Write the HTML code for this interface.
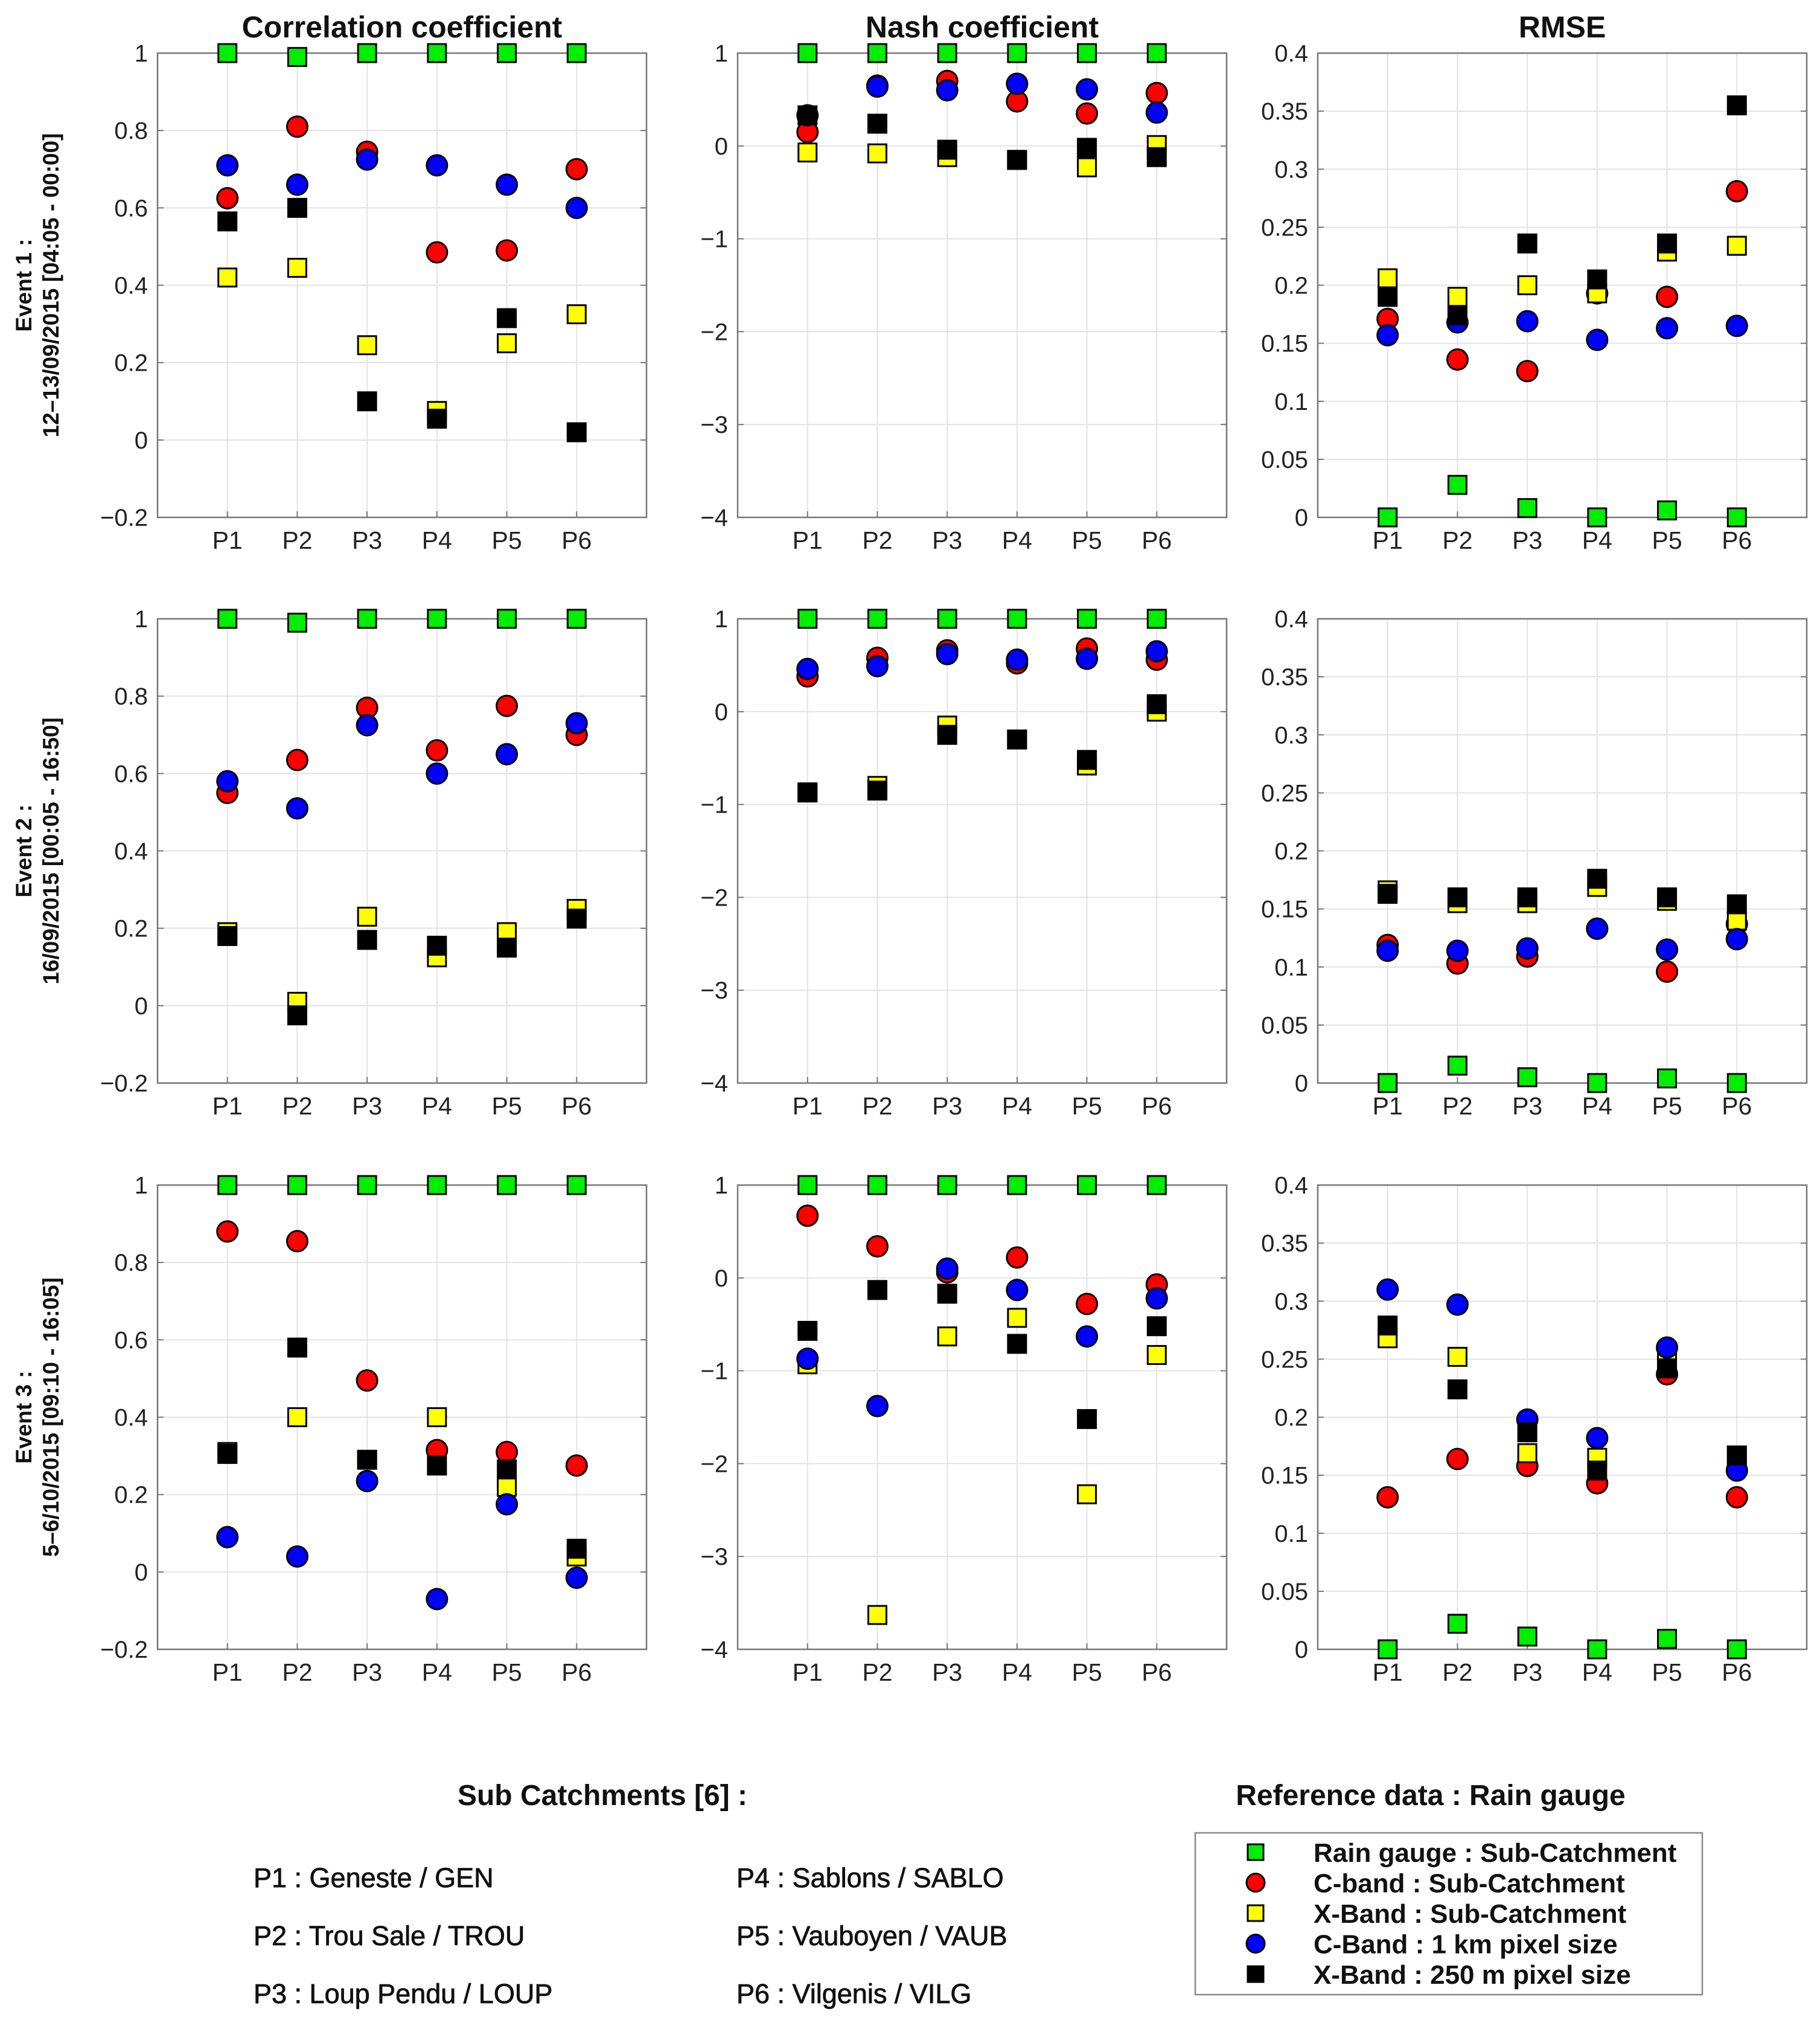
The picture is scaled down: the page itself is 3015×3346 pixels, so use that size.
<!DOCTYPE html>
<html><head><meta charset="utf-8"><style>
html,body{margin:0;padding:0;background:#fff;}
svg{display:block;font-family:"Liberation Sans",sans-serif;}
</style></head><body>
<svg id="fig" width="3015" height="3346" viewBox="0 0 3015 3346" xmlns="http://www.w3.org/2000/svg"></svg>
<script>
const categories = ["P1","P2","P3","P4","P5","P6"];
const metrics = ["Correlation coefficient","Nash coefficient","RMSE"];
const events = [["Event 1 :","12\u201313/09/2015 [04:05 - 00:00]"],["Event 2 :","16/09/2015 [00:05 - 16:50]"],["Event 3 :","5\u20136/10/2015 [09:10 - 16:05]"]];
const corrTicks = [-0.2,0,0.2,0.4,0.6,0.8,1];
const corrTickLabels = ["\u22120.2","0","0.2","0.4","0.6","0.8","1"];
const nashTicks = [-4,-3,-2,-1,0,1];
const nashTickLabels = ["\u22124","\u22123","\u22122","\u22121","0","1"];
const rmseTicks = [0,0.05,0.1,0.15,0.2,0.25,0.3,0.35,0.4];
const rmseTickLabels = ["0","0.05","0.1","0.15","0.2","0.25","0.3","0.35","0.4"];
// Event 1
const e1CorrGreen=[1,0.99,1,1,1,1], e1CorrRed=[0.625,0.81,0.745,0.485,0.49,0.7], e1CorrYellow=[0.42,0.445,0.245,0.075,0.25,0.325], e1CorrBlue=[0.71,0.66,0.725,0.71,0.66,0.6], e1CorrBlack=[0.565,0.6,0.1,0.055,0.315,0.02];
const e1NashGreen=[1,1,1,1,1,1], e1NashRed=[0.15,0.65,0.7,0.48,0.35,0.57], e1NashYellow=[-0.07,-0.08,-0.12,-0.15,-0.23,0.01], e1NashBlue=[0.33,0.64,0.6,0.67,0.61,0.36], e1NashBlack=[0.33,0.24,-0.04,-0.15,-0.02,-0.12];
const e1RmseGreen=[0,0.028,0.008,0,0.006,0], e1RmseRed=[0.171,0.136,0.126,0.193,0.19,0.281], e1RmseYellow=[0.206,0.19,0.2,0.193,0.229,0.234], e1RmseBlue=[0.157,0.168,0.169,0.153,0.163,0.165], e1RmseBlack=[0.19,0.174,0.236,0.205,0.236,0.355];
// Event 2
const e2CorrGreen=[1,0.99,1,1,1,1], e2CorrRed=[0.55,0.635,0.77,0.66,0.775,0.7], e2CorrYellow=[0.19,0.01,0.23,0.125,0.19,0.25], e2CorrBlue=[0.58,0.51,0.725,0.6,0.65,0.73], e2CorrBlack=[0.18,-0.025,0.17,0.155,0.15,0.225];
const e2NashGreen=[1,1,1,1,1,1], e2NashRed=[0.38,0.58,0.66,0.52,0.68,0.56], e2NashYellow=[-0.87,-0.8,-0.15,-0.3,-0.58,0], e2NashBlue=[0.46,0.49,0.62,0.56,0.57,0.65], e2NashBlack=[-0.87,-0.85,-0.25,-0.3,-0.52,0.08];
const e2RmseGreen=[0,0.015,0.005,0,0.004,0], e2RmseRed=[0.119,0.103,0.109,0.133,0.096,0.137], e2RmseYellow=[0.166,0.155,0.155,0.169,0.157,0.14], e2RmseBlue=[0.114,0.114,0.116,0.133,0.115,0.124], e2RmseBlack=[0.163,0.16,0.16,0.176,0.16,0.154];
// Event 3
const e3CorrGreen=[1,1,1,1,1,1], e3CorrRed=[0.88,0.855,0.495,0.315,0.31,0.275], e3CorrYellow=[0.31,0.4,0.29,0.4,0.22,0.04], e3CorrBlue=[0.09,0.04,0.235,-0.07,0.175,-0.015], e3CorrBlack=[0.305,0.58,0.29,0.275,0.265,0.06];
const e3NashGreen=[1,1,1,1,1,1], e3NashRed=[0.67,0.34,0.06,0.22,-0.28,-0.07], e3NashYellow=[-0.93,-3.63,-0.63,-0.43,-2.33,-0.83], e3NashBlue=[-0.87,-1.38,0.1,-0.13,-0.63,-0.22], e3NashBlack=[-0.57,-0.13,-0.17,-0.71,-1.52,-0.52];
const e3RmseGreen=[0,0.022,0.011,0,0.009,0], e3RmseRed=[0.131,0.164,0.158,0.143,0.237,0.131], e3RmseYellow=[0.268,0.252,0.169,0.165,0.25,0.167], e3RmseBlue=[0.31,0.297,0.198,0.182,0.26,0.154], e3RmseBlack=[0.279,0.224,0.187,0.154,0.242,0.167];

const NS="http://www.w3.org/2000/svg";
const svg=document.getElementById('fig');
function mk(tag,attrs,parent,text){const e=document.createElementNS(NS,tag);for(const k in attrs)e.setAttribute(k,attrs[k]);if(text!==undefined)e.textContent=text;(parent||svg).appendChild(e);return e;}

const colLeft=[261,1222,2183], colW=810, rowTop=[88,1025,1963], rowH=769;
const yCfg=[{min:-0.2,max:1,ticks:corrTicks,labels:corrTickLabels},{min:-4,max:1,ticks:nashTicks,labels:nashTickLabels},{min:0,max:0.4,ticks:rmseTicks,labels:rmseTickLabels}];
const seriesData=[
 [[e1CorrGreen,e1CorrRed,e1CorrYellow,e1CorrBlue,e1CorrBlack],[e1NashGreen,e1NashRed,e1NashYellow,e1NashBlue,e1NashBlack],[e1RmseGreen,e1RmseRed,e1RmseYellow,e1RmseBlue,e1RmseBlack]],
 [[e2CorrGreen,e2CorrRed,e2CorrYellow,e2CorrBlue,e2CorrBlack],[e2NashGreen,e2NashRed,e2NashYellow,e2NashBlue,e2NashBlack],[e2RmseGreen,e2RmseRed,e2RmseYellow,e2RmseBlue,e2RmseBlack]],
 [[e3CorrGreen,e3CorrRed,e3CorrYellow,e3CorrBlue,e3CorrBlack],[e3NashGreen,e3NashRed,e3NashYellow,e3NashBlue,e3NashBlack],[e3RmseGreen,e3RmseRed,e3RmseYellow,e3RmseBlue,e3RmseBlack]]];
const seriesNames=["rain-gauge","c-band-subcatchment","x-band-subcatchment","c-band-1km","x-band-250m"];
const seriesFill=["#00ee00","#ff0000","#ffff00","#0000ff","#000000"];
const seriesShape=["sq","ci","sq","ci","sq"];

function marker(g,shape,fill,cx,cy,s){
  if(shape==="sq") return mk('rect',{x:cx-s/2,y:cy-s/2,width:s,height:s,fill:fill,stroke:'#000','stroke-width':3},g);
  return mk('circle',{cx:cx,cy:cy,r:s/2,fill:fill,stroke:'#000','stroke-width':3},g);
}

for(let r=0;r<3;r++){
  for(let c=0;c<3;c++){
    const L=colLeft[c],T=rowTop[r],cfg=yCfg[c];
    const xs=v=>L+(v/7)*colW;
    const ys=v=>T+rowH-(v-cfg.min)/(cfg.max-cfg.min)*rowH;
    const g=mk('g',{},svg);
    
    
    cfg.ticks.forEach((t,i)=>{
      const y=ys(t);
      const gl=mk('line',{x1:L,x2:L+colW,y1:y,y2:y,stroke:'#e3e3e3','stroke-width':2},g);
      
      mk('line',{x1:L,x2:L+10,y1:y,y2:y,stroke:'#777','stroke-width':2},g);
      mk('line',{x1:L+colW-10,x2:L+colW,y1:y,y2:y,stroke:'#777','stroke-width':2},g);
      const tl=mk('text',{x:L-16,y:y+14,'text-anchor':'end','font-size':40,fill:'#222'},g,cfg.labels[i]);
      
    });
    categories.forEach((cat,i)=>{
      const x=xs(i+1);
      const gl=mk('line',{x1:x,x2:x,y1:T,y2:T+rowH,stroke:'#e3e3e3','stroke-width':2},g);
      
      mk('line',{x1:x,x2:x,y1:T+rowH-10,y2:T+rowH,stroke:'#777','stroke-width':2},g);
      const tl=mk('text',{x:x,y:T+rowH+52,'text-anchor':'middle','font-size':41,fill:'#222'},g,cat);
      
    });
    const box=mk('rect',{x:L,y:T,width:colW,height:rowH,fill:'none',stroke:'#777','stroke-width':2.5},g);
    
    if(r===0){
      const tt=mk('text',{x:L+colW/2,y:T-26,'text-anchor':'middle','font-size':50,'font-weight':'bold',fill:'#111'},g,metrics[c]);
      
    }
    const sd=seriesData[r][c];
    for(let s=0;s<5;s++){
      sd[s].forEach((v,i)=>{
        const m=marker(g,seriesShape[s],seriesFill[s],xs(i+1),ys(v),seriesShape[s]==="ci"?34:30);
        
        
      });
    }
  }
  const cy=rowTop[r]+rowH/2;
  const rl=mk('text',{transform:`translate(52,${cy}) rotate(-90)`,'text-anchor':'middle','font-size':37,'font-weight':'bold',fill:'#111'},svg,events[r][0]);
  
  const rl2=mk('text',{transform:`translate(97,${cy}) rotate(-90)`,'text-anchor':'middle','font-size':37,'font-weight':'bold',fill:'#111'},svg,events[r][1]);
  
}

const subTitle=mk('text',{x:998,y:2990,'text-anchor':'middle','font-size':48,'font-weight':'bold',fill:'#111'},svg,"Sub Catchments [6] :");

const subs=[["P1 : Geneste / GEN",420,3126],["P2 : Trou Sale / TROU",420,3222],["P3 : Loup Pendu / LOUP",420,3318],["P4 : Sablons / SABLO",1220,3126],["P5 : Vauboyen / VAUB",1220,3222],["P6 : Vilgenis / VILG",1220,3318]];
subs.forEach(s=>{const t=mk('text',{x:s[1],y:s[2],'font-size':45,fill:'#111',stroke:'#111','stroke-width':0.8},svg,s[0]);
 });
const refT=mk('text',{x:2370,y:2990,'text-anchor':'middle','font-size':48,'font-weight':'bold',fill:'#111'},svg,"Reference data :  Rain gauge");

const lg=mk('g',{},svg);
mk('rect',{x:1980,y:3036,width:840,height:268,fill:'#fff',stroke:'#888','stroke-width':2.5},lg);
const legendLabels=["Rain gauge : Sub-Catchment","C-band : Sub-Catchment","X-Band : Sub-Catchment","C-Band : 1 km pixel size","X-Band  : 250 m pixel size"];
legendLabels.forEach((lab,i)=>{
  const y=3068+i*50.5;
  const m=marker(lg,seriesShape[i],seriesFill[i],2080,y,seriesShape[i]==="ci"?30:26);
  
  const t=mk('text',{x:2176,y:y+16,'font-size':44,'font-weight':'bold',fill:'#111','xml:space':'preserve'},lg,lab);
  
});
</script>
</body></html>
